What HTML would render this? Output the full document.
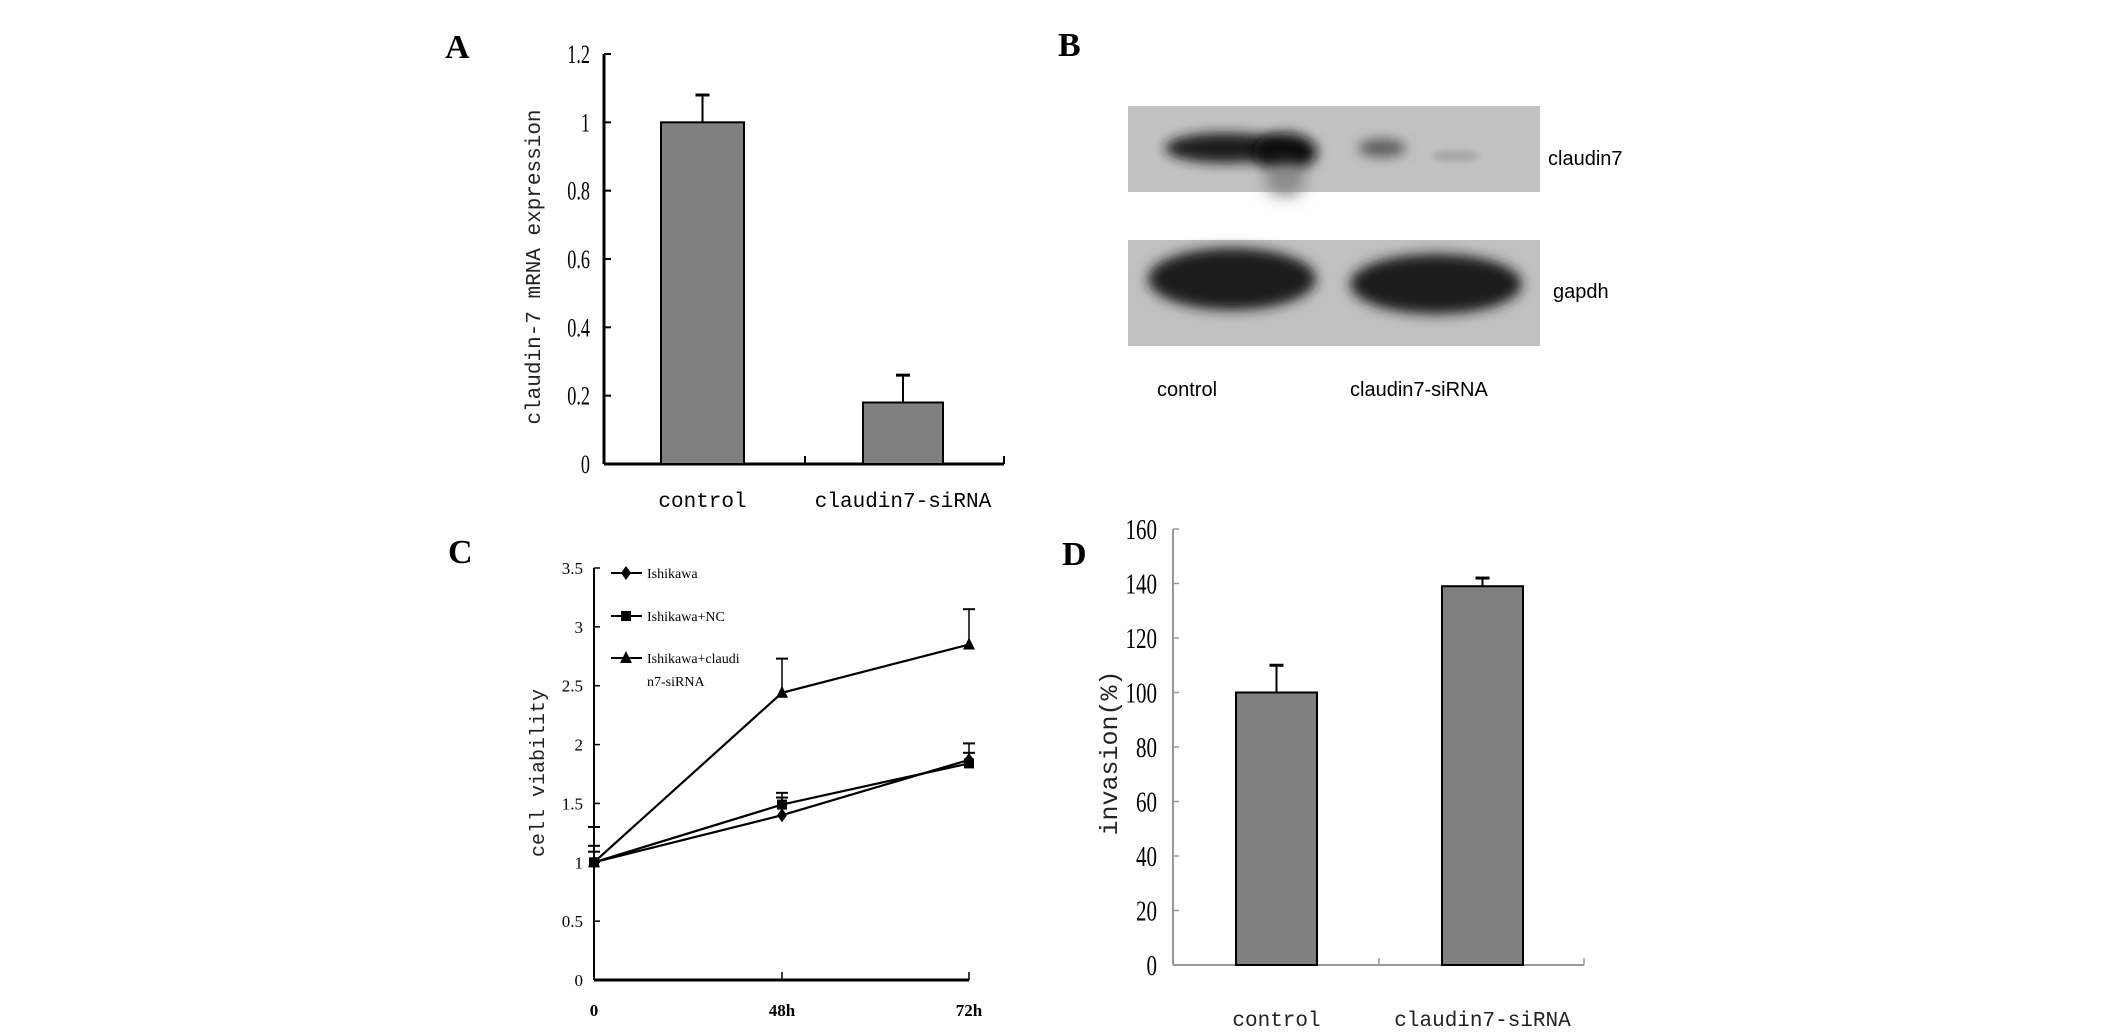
<!DOCTYPE html>
<html><head><meta charset="utf-8"><style>
html,body{margin:0;padding:0;background:#fff;}
svg{display:block;}
</style></head><body>
<svg id="fig" width="2126" height="1036" viewBox="0 0 2126 1036" xmlns="http://www.w3.org/2000/svg">
<defs>
<filter id="blur8" x="-40%" y="-80%" width="180%" height="260%"><feGaussianBlur stdDeviation="8"/></filter>
<filter id="blur6" x="-30%" y="-60%" width="160%" height="220%"><feGaussianBlur stdDeviation="6"/></filter>
<filter id="blur3" x="-30%" y="-60%" width="160%" height="220%"><feGaussianBlur stdDeviation="3"/></filter>
</defs>
<!-- panel labels -->
<text x="445" y="58" font-family="Liberation Serif, serif" font-weight="bold" font-size="34">A</text>
<text x="1058" y="56" font-family="Liberation Serif, serif" font-weight="bold" font-size="34">B</text>
<text x="448" y="563" font-family="Liberation Serif, serif" font-weight="bold" font-size="34">C</text>
<text x="1062" y="565" font-family="Liberation Serif, serif" font-weight="bold" font-size="34">D</text>

<!-- Panel B western blot -->
<g>
<rect x="1128" y="106" width="412" height="86" fill="#c2c2c2"/>
<ellipse cx="1225" cy="148" rx="60" ry="15" fill="#1a1a1a" filter="url(#blur6)"/>
<ellipse cx="1285" cy="152" rx="32" ry="19" fill="#111" filter="url(#blur6)"/>
<ellipse cx="1285" cy="180" rx="20" ry="16" fill="#888" filter="url(#blur8)"/>
<ellipse cx="1382" cy="148" rx="24" ry="9" fill="#5a5a5a" filter="url(#blur6)"/>
<ellipse cx="1455" cy="156" rx="24" ry="6" fill="#a8a8a8" filter="url(#blur3)"/>
<rect x="1128" y="240" width="412" height="106" fill="#c0c0c0"/>
<ellipse cx="1232" cy="279" rx="84" ry="31" fill="#1a1a1a" filter="url(#blur6)"/>
<ellipse cx="1436" cy="284" rx="86" ry="30" fill="#1a1a1a" filter="url(#blur6)"/>
<text x="1548" y="165" font-family="Liberation Sans, sans-serif" font-size="20">claudin7</text>
<text x="1553" y="298" font-family="Liberation Sans, sans-serif" font-size="20">gapdh</text>
<text x="1157" y="396" font-family="Liberation Sans, sans-serif" font-size="20">control</text>
<text x="1350" y="396" font-family="Liberation Sans, sans-serif" font-size="20">claudin7-siRNA</text>
</g>

<g id="panelA"></g>
<g id="panelC"></g>
<g id="panelD"></g>
</svg>
<script>
// Panel A data
const aCategories = ["control", "claudin7-siRNA"];
const aValues = [1.0, 0.18];
const aErrors = [0.08, 0.08];
const aTicks = ["0", "0.2", "0.4", "0.6", "0.8", "1", "1.2"];
// Panel C data
const cCategories = ["0", "48h", "72h"];
const cSeriesNames = ["Ishikawa", "Ishikawa+NC", "Ishikawa+claudin7-siRNA"];
const cIshikawa = [1.0, 1.4, 1.87];
const cNC = [1.0, 1.49, 1.84];
const cSiRNA = [1.0, 2.44, 2.85];
const cErrIshikawa = [0.3, 0.15, 0.14];
const cErrNC = [0.14, 0.1, 0.09];
const cErrSiRNA = [0.09, 0.29, 0.3];
const cTicks = ["0", "0.5", "1", "1.5", "2", "2.5", "3", "3.5"];
// Panel D data
const dCategories = ["control", "claudin7-siRNA"];
const dValues = [100, 139];
const dErrors = [10, 3];
const dTicks = ["0", "20", "40", "60", "80", "100", "120", "140", "160"];

const NS = "http://www.w3.org/2000/svg";
function mk(parent, tag, attrs, text) {
  const e = document.createElementNS(NS, tag);
  for (const k in attrs) e.setAttribute(k, attrs[k]);
  if (text !== undefined) e.textContent = text;
  parent.appendChild(e);
  return e;
}

// ---------- Panel A ----------
(function () {
  const g = document.getElementById("panelA");
  const x0 = 604, x1 = 1004, yTop = 54, yBot = 464, vMax = 1.2;
  const y = v => yBot - (v / vMax) * (yBot - yTop);
  const bx = [661, 863], bw = [83, 80];
  let e = mk(g, "line", {x1: x0, y1: yTop, x2: x0, y2: yBot, stroke: "#000", "stroke-width": 3});
  
  
  e = mk(g, "line", {x1: x0, y1: yBot, x2: x1, y2: yBot, stroke: "#000", "stroke-width": 3});
  
  
  mk(g, "line", {x1: 805, y1: yBot, x2: 805, y2: yBot - 8, stroke: "#000", "stroke-width": 2});
  mk(g, "line", {x1: x1, y1: yBot, x2: x1, y2: yBot - 8, stroke: "#000", "stroke-width": 2});
  aTicks.forEach(t => {
    const yy = y(parseFloat(t));
    mk(g, "line", {x1: x0, y1: yy, x2: x0 + 7, y2: yy, stroke: "#000", "stroke-width": 2});
    e = mk(g, "text", {x: 590, y: yy + 9, "text-anchor": "end", "font-family": "Liberation Serif, serif", "font-size": 26, transform: `translate(${590*0.3},0) scale(0.7,1)`}, t);
    
    
  });
  aValues.forEach((v, i) => {
    e = mk(g, "rect", {x: bx[i], y: y(v), width: bw[i], height: yBot - y(v), fill: "#808080", stroke: "#000", "stroke-width": 2});
    
    
    const cx = bx[i] + bw[i] / 2;
    mk(g, "line", {x1: cx, y1: y(v), x2: cx, y2: y(v + aErrors[i]), stroke: "#000", "stroke-width": 2});
    mk(g, "line", {x1: cx - 7, y1: y(v + aErrors[i]), x2: cx + 7, y2: y(v + aErrors[i]), stroke: "#000", "stroke-width": 3});
    e = mk(g, "text", {x: cx, y: 507, "text-anchor": "middle", "font-family": "Liberation Mono, monospace", "font-size": 21}, aCategories[i]);
    
    
  });
  e = mk(g, "text", {x: 0, y: 0, transform: "translate(540,267) rotate(-90)", "text-anchor": "middle", "font-family": "Liberation Mono, monospace", "font-size": 21, fill: "#222"}, "claudin-7 mRNA expression");
  
  
})();

// ---------- Panel C ----------
(function () {
  const g = document.getElementById("panelC");
  const x0 = 594, yTop = 568, yBot = 980, vMax = 3.5;
  const xs = [594, 782, 969];
  const y = v => yBot - (v / vMax) * (yBot - yTop);
  let e = mk(g, "line", {x1: x0, y1: yTop, x2: x0, y2: yBot, stroke: "#000", "stroke-width": 2});
  
  
  e = mk(g, "line", {x1: x0, y1: yBot, x2: xs[2], y2: yBot, stroke: "#000", "stroke-width": 3});
  
  
  cTicks.forEach(t => {
    const yy = y(parseFloat(t));
    mk(g, "line", {x1: x0, y1: yy, x2: x0 + 6, y2: yy, stroke: "#000", "stroke-width": 1.5});
    e = mk(g, "text", {x: 583, y: yy + 6, "text-anchor": "end", "font-family": "Liberation Serif, serif", "font-size": 17}, t);
    
    
  });
  cCategories.forEach((c, i) => {
    mk(g, "line", {x1: xs[i], y1: yBot, x2: xs[i], y2: yBot - 8, stroke: "#000", "stroke-width": 1.5});
    e = mk(g, "text", {x: xs[i], y: 1016, "text-anchor": "middle", "font-family": "Liberation Serif, serif", "font-size": 17, "font-weight": "bold"}, c);
    
    
  });
  const series = [cIshikawa, cNC, cSiRNA];
  const errs = [cErrIshikawa, cErrNC, cErrSiRNA];
  const markers = ["diamond", "square", "triangle"];
  function marker(cx, cy, type, name) {
    let m;
    if (type === "diamond") m = mk(g, "polygon", {points: `${cx},${cy-7} ${cx+5},${cy} ${cx},${cy+7} ${cx-5},${cy}`, fill: "#000"});
    else if (type === "square") m = mk(g, "rect", {x: cx - 5, y: cy - 5, width: 10, height: 10, fill: "#000"});
    else m = mk(g, "polygon", {points: `${cx},${cy-7} ${cx+6},${cy+5} ${cx-6},${cy+5}`, fill: "#000"});
    
    
  }
  series.forEach((s, si) => {
    const pts = s.map((v, i) => xs[i] + "," + y(v)).join(" ");
    e = mk(g, "polyline", {points: pts, fill: "none", stroke: "#000", "stroke-width": 2.2});
    
    
    s.forEach((v, i) => {
      const top = y(v + errs[si][i]);
      mk(g, "line", {x1: xs[i], y1: y(v), x2: xs[i], y2: top, stroke: "#000", "stroke-width": 1.5});
      mk(g, "line", {x1: xs[i] - 6, y1: top, x2: xs[i] + 6, y2: top, stroke: "#000", "stroke-width": 2});
      marker(xs[i], y(v), markers[si], 'point-' + markers[si]);
    });
  });
  // legend
  const ly = [573, 616, 658];
  const labels = ["Ishikawa", "Ishikawa+NC", "Ishikawa+claudi"];
  ly.forEach((yy, i) => {
    mk(g, "line", {x1: 611, y1: yy, x2: 642, y2: yy, stroke: "#000", "stroke-width": 2});
    marker(626, yy, markers[i], 'legend-marker');
    e = mk(g, "text", {x: 647, y: yy + 5, "font-family": "Liberation Serif, serif", "font-size": 14}, labels[i]);
    
    
  });
  e = mk(g, "text", {x: 647, y: 686, "font-family": "Liberation Serif, serif", "font-size": 14}, "n7-siRNA");
  
  
  e = mk(g, "text", {x: 0, y: 0, transform: "translate(544,773) rotate(-90)", "text-anchor": "middle", "font-family": "Liberation Mono, monospace", "font-size": 20, fill: "#222"}, "cell viability");
  
  
})();

// ---------- Panel D ----------
(function () {
  const g = document.getElementById("panelD");
  const x0 = 1173, x1 = 1584, yTop = 529, yBot = 965, vMax = 160;
  const y = v => yBot - (v / vMax) * (yBot - yTop);
  const bx = [1236, 1442], bw = [81, 81];
  let e = mk(g, "line", {x1: x0, y1: yTop, x2: x0, y2: yBot, stroke: "#999", "stroke-width": 2});
  
  
  e = mk(g, "line", {x1: x0, y1: yBot, x2: x1, y2: yBot, stroke: "#999", "stroke-width": 2});
  
  
  mk(g, "line", {x1: 1379, y1: yBot, x2: 1379, y2: yBot - 7, stroke: "#999", "stroke-width": 1.5});
  mk(g, "line", {x1: x1, y1: yBot, x2: x1, y2: yBot - 7, stroke: "#999", "stroke-width": 1.5});
  dTicks.forEach(t => {
    const yy = y(parseFloat(t));
    mk(g, "line", {x1: x0, y1: yy, x2: x0 + 6, y2: yy, stroke: "#999", "stroke-width": 1.5});
    e = mk(g, "text", {x: 1157, y: yy + 10, "text-anchor": "end", "font-family": "Liberation Serif, serif", "font-size": 28, transform: `translate(${1157*0.25},0) scale(0.75,1)`}, t);
    
    
  });
  dValues.forEach((v, i) => {
    e = mk(g, "rect", {x: bx[i], y: y(v), width: bw[i], height: yBot - y(v), fill: "#808080", stroke: "#000", "stroke-width": 2});
    
    
    const cx = bx[i] + bw[i] / 2;
    mk(g, "line", {x1: cx, y1: y(v), x2: cx, y2: y(v + dErrors[i]), stroke: "#000", "stroke-width": 2});
    mk(g, "line", {x1: cx - 7, y1: y(v + dErrors[i]), x2: cx + 7, y2: y(v + dErrors[i]), stroke: "#000", "stroke-width": 3});
    e = mk(g, "text", {x: cx, y: 1026, "text-anchor": "middle", "font-family": "Liberation Mono, monospace", "font-size": 21, fill: "#222"}, dCategories[i]);
    
    
  });
  e = mk(g, "text", {x: 0, y: 0, transform: "translate(1117,753) rotate(-90)", "text-anchor": "middle", "font-family": "Liberation Mono, monospace", "font-size": 25, fill: "#222"}, "invasion(%)");
  
  
})();
</script>
</body></html>
